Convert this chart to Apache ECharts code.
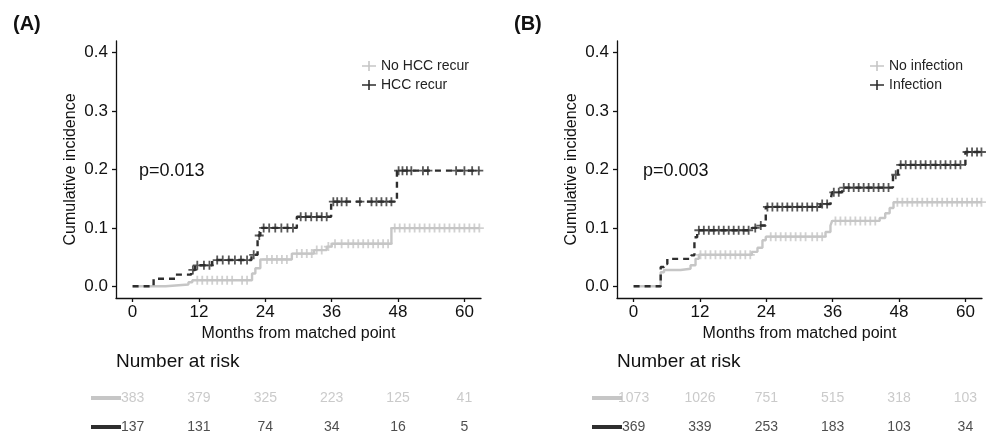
<!DOCTYPE html>
<html>
<head>
<meta charset="utf-8">
<script src="https://cdn.jsdelivr.net/npm/echarts@6/dist/echarts.min.js"></script>
<style>
html,body{margin:0;padding:0;background:#fff;}
#c{width:990px;height:432px;}
</style>
</head>
<body>
<div id="c"></div>
<script>
// ---------- data ----------
const monthTicks = [0, 12, 24, 36, 48, 60];
const incidenceTicks = [0, 0.1, 0.2, 0.3, 0.4];

// Panel A: [month, cumulative incidence] at each step
const aNoRecurSteps = [[0,0],[6,0.003],[10.1,0.007],[10.8,0.0105],[21.6,0.022],[22.2,0.031],[23.1,0.046],[28.8,0.056],[32.8,0.062],[35.1,0.068],[36,0.073],[46.8,0.0997],[62.7,0.0997]];
const aNoRecurCensor = [11.7,12.6,13.5,14.4,15.3,16.2,17.1,18,19.8,20.7,24.3,25.2,26.1,27,27.9,29.7,30.6,31.5,32.4,33.3,34.2,35.4,36.6,37.8,39,39.9,40.8,41.7,42.6,43.5,44.4,45.3,46.2,47.4,48.3,49.2,50.1,51,51.9,52.8,53.7,54.6,55.5,56.4,57.3,58.2,59.1,60,60.9,61.8,62.7];
const aRecurSteps = [[0,0],[3.8,0.013],[7.7,0.02],[10.6,0.028],[11.3,0.036],[14.4,0.045],[21.5,0.054],[22.6,0.087],[23.1,0.1],[29.7,0.119],[35.9,0.145],[47.8,0.198],[62.7,0.198]];
const aRecurCensor = [10.9,11.7,12.9,13.9,15.3,16.3,17.4,18.5,19.6,20.7,21.9,22.9,23.7,24.7,25.8,26.9,28,29,30.4,31.3,32.3,33.3,34.2,35.1,36.3,37,37.8,38.7,41.1,43.2,44.1,45,45.9,46.8,48.1,48.8,49.6,50.4,52.5,53.4,58.5,60,61.4,62.6];
const aRiskNo = [383, 379, 325, 223, 125, 41];
const aRiskRecur = [137, 131, 74, 34, 16, 5];

// Panel B
const bNoInfSteps = [[0,0],[4.9,0.024],[5.5,0.028],[8.5,0.03],[10.3,0.036],[11.2,0.047],[11.8,0.054],[21.4,0.059],[22.4,0.066],[23.3,0.079],[23.9,0.085],[34.7,0.093],[35.6,0.104],[35.9,0.112],[44.5,0.117],[45.5,0.125],[46.3,0.134],[47,0.144],[62.9,0.144]];
const bNoInfCensor = [12.1,13,13.9,14.8,15.7,16.6,17.5,18.4,19.3,20.2,21.1,24.8,25.7,26.6,27.5,28.4,29.3,30.2,31.1,32.3,33.2,34.1,36.5,37.4,38.3,39.2,40.1,41,41.9,42.8,43.7,47.7,48.6,49.5,50.4,51.3,52.2,53.1,54,54.9,55.8,56.7,57.6,58.5,59.4,60.3,61.2,62.1,62.9];
const bInfSteps = [[0,0],[4.9,0.033],[5.5,0.038],[6.1,0.047],[10.4,0.053],[11,0.084],[11.5,0.096],[21.4,0.1],[22.5,0.104],[23.9,0.136],[33.8,0.141],[35.6,0.147],[35.9,0.161],[37.7,0.169],[46.9,0.191],[47.8,0.208],[60,0.23],[62.9,0.23]];
const bInfCensor = [11.8,12.7,13.6,14.5,15.4,16.3,17.2,18.1,19,19.9,20.8,22,23,24.2,25.1,26,26.9,27.8,28.7,29.6,30.5,31.4,32.3,33.2,34.1,35,36.2,37.1,38,38.9,39.8,40.7,41.6,42.5,43.4,44.3,45.2,46.1,47.4,48.3,49.2,50.1,51,51.9,52.8,53.7,54.6,55.5,56.4,57.3,58.2,59.1,60.3,61.2,62.1,62.9];
const bRiskNo = [1073, 1026, 751, 515, 318, 103];
const bRiskInf = [369, 339, 253, 183, 103, 34];

// ---------- styling ----------
const GREY = '#c6c6c6';
const DARK = '#2e2e2e';
const FONT = "'Liberation Sans', Arial, Helvetica, sans-serif";
const PLUS = 'path://M0,4H10V6H0Z M4,0H6V10H4Z';
const LEG_ICON = 'path://M0,4.2H14V5.8H0Z M6.2,0H7.8V10H6.2Z';

function stepValue(steps, t) {
  let v = steps[0][1];
  for (const s of steps) { if (s[0] <= t) v = s[1]; }
  return v;
}
function censorPoints(steps, times) { return times.map(t => [t, stepValue(steps, t)]); }

const chart = echarts.init(document.getElementById('c'), null, {renderer: 'canvas'});

function plotX(gi) {
  return {
    gridIndex: gi, type: 'value', min: -3, max: 63,
    name: 'Months from matched point', nameLocation: 'middle', nameGap: 26,
    nameTextStyle: {fontFamily: FONT, fontSize: 16, color: '#111'},
    axisLine: {onZero: false, lineStyle: {color: '#111', width: 1.3}},
    axisTick: {show: true, length: 4, customValues: monthTicks, lineStyle: {color: '#111', width: 1.3}},
    axisLabel: {customValues: monthTicks, fontFamily: FONT, fontSize: 17, color: '#111', margin: 6},
    splitLine: {show: false}
  };
}
function plotY(gi) {
  return {
    gridIndex: gi, type: 'value', min: -0.02, max: 0.42,
    name: 'Cumulative incidence', nameLocation: 'middle', nameGap: 37,
    nameTextStyle: {fontFamily: FONT, fontSize: 16, color: '#111'},
    axisLine: {show: true, onZero: false, lineStyle: {color: '#111', width: 1.3}},
    axisTick: {show: true, length: 4, customValues: incidenceTicks, lineStyle: {color: '#111', width: 1.3}},
    axisLabel: {customValues: incidenceTicks, fontFamily: FONT, fontSize: 17, color: '#111', margin: 8,
      formatter: v => v.toFixed(1)},
    splitLine: {show: false}
  };
}
function riskX(gi) {
  return {gridIndex: gi, type: 'value', min: -3, max: 63, show: false};
}
function riskY(gi) {
  return {gridIndex: gi, type: 'value', min: 0, max: 3, show: false};
}

function stepSeries(name, steps, color, dashed, xi) {
  return {
    name: name, type: 'line', step: 'end', xAxisIndex: xi, yAxisIndex: xi,
    data: steps, symbol: 'none', silent: true, animation: false,
    lineStyle: {color: color, width: 2.4, type: dashed ? [6, 5] : 'solid'},
    itemStyle: {color: color}, z: dashed ? 4 : 3
  };
}
function censorSeries(name, steps, times, color, xi) {
  return {
    name: name, type: 'scatter', xAxisIndex: xi, yAxisIndex: xi,
    data: censorPoints(steps, times), symbol: PLUS, symbolSize: 9,
    itemStyle: {color: color}, silent: true, animation: false, z: 5
  };
}
function riskSeries(values, row, color, xi) {
  return {
    type: 'scatter', xAxisIndex: xi, yAxisIndex: xi, symbolSize: 1,
    itemStyle: {color: 'rgba(0,0,0,0)'}, silent: true, animation: false,
    data: monthTicks.map((m, i) => [m, row, values[i]]),
    label: {show: true, position: 'inside', formatter: p => String(p.value[2]),
      fontFamily: FONT, fontSize: 14, color: color}
  };
}

const option = {
  backgroundColor: '#fff',
  animation: false,
  grid: [
    {left: 116, top: 41, width: 365, height: 257},
    {left: 617, top: 41, width: 365, height: 257},
    {left: 116, top: 384, width: 365, height: 43},
    {left: 617, top: 384, width: 365, height: 43}
  ],
  xAxis: [plotX(0), plotX(1), riskX(2), riskX(3)],
  yAxis: [plotY(0), plotY(1), riskY(2), riskY(3)],
  legend: [
    {left: 357, top: 54, orient: 'vertical', itemWidth: 14, itemHeight: 10, itemGap: 5,
     textStyle: {fontFamily: FONT, fontSize: 14, color: '#222'}, selectedMode: false,
     data: [{name: 'No HCC recur', icon: LEG_ICON, itemStyle: {color: GREY}},
            {name: 'HCC recur', icon: LEG_ICON, itemStyle: {color: DARK}}]},
    {left: 865, top: 54, orient: 'vertical', itemWidth: 14, itemHeight: 10, itemGap: 5,
     textStyle: {fontFamily: FONT, fontSize: 14, color: '#222'}, selectedMode: false,
     data: [{name: 'No infection', icon: LEG_ICON, itemStyle: {color: GREY}},
            {name: 'Infection', icon: LEG_ICON, itemStyle: {color: DARK}}]}
  ],
  graphic: [
    {type: 'text', left: 13, top: 14, style: {text: '(A)', font: 'bold 20px ' + FONT, fill: '#111'}},
    {type: 'text', left: 514, top: 14, style: {text: '(B)', font: 'bold 20px ' + FONT, fill: '#111'}},
    {type: 'text', left: 139, top: 162, style: {text: 'p=0.013', font: '18px ' + FONT, fill: '#111'}},
    {type: 'text', left: 643, top: 162, style: {text: 'p=0.003', font: '18px ' + FONT, fill: '#111'}},
    {type: 'text', left: 116, top: 352, style: {text: 'Number at risk', font: '19px ' + FONT, fill: '#111'}},
    {type: 'text', left: 617, top: 352, style: {text: 'Number at risk', font: '19px ' + FONT, fill: '#111'}},
    {type: 'rect', shape: {x: 91, y: 396, width: 30, height: 4}, style: {fill: GREY}},
    {type: 'rect', shape: {x: 91, y: 425, width: 30, height: 4}, style: {fill: DARK}},
    {type: 'rect', shape: {x: 592, y: 396, width: 30, height: 4}, style: {fill: GREY}},
    {type: 'rect', shape: {x: 592, y: 425, width: 30, height: 4}, style: {fill: DARK}}
  ],
  series: [
    stepSeries('No HCC recur', aNoRecurSteps, GREY, false, 0),
    censorSeries('No HCC recur', aNoRecurSteps, aNoRecurCensor, GREY, 0),
    stepSeries('HCC recur', aRecurSteps, DARK, true, 0),
    censorSeries('HCC recur', aRecurSteps, aRecurCensor, DARK, 0),
    stepSeries('No infection', bNoInfSteps, GREY, false, 1),
    censorSeries('No infection', bNoInfSteps, bNoInfCensor, GREY, 1),
    stepSeries('Infection', bInfSteps, DARK, true, 1),
    censorSeries('Infection', bInfSteps, bInfCensor, DARK, 1),
    riskSeries(aRiskNo, 2, '#bdbdbd', 2),
    riskSeries(aRiskRecur, 0, '#222', 2),
    riskSeries(bRiskNo, 2, '#bdbdbd', 3),
    riskSeries(bRiskInf, 0, '#222', 3)
  ]
};
chart.setOption(option);
</script>
</body>
</html>
